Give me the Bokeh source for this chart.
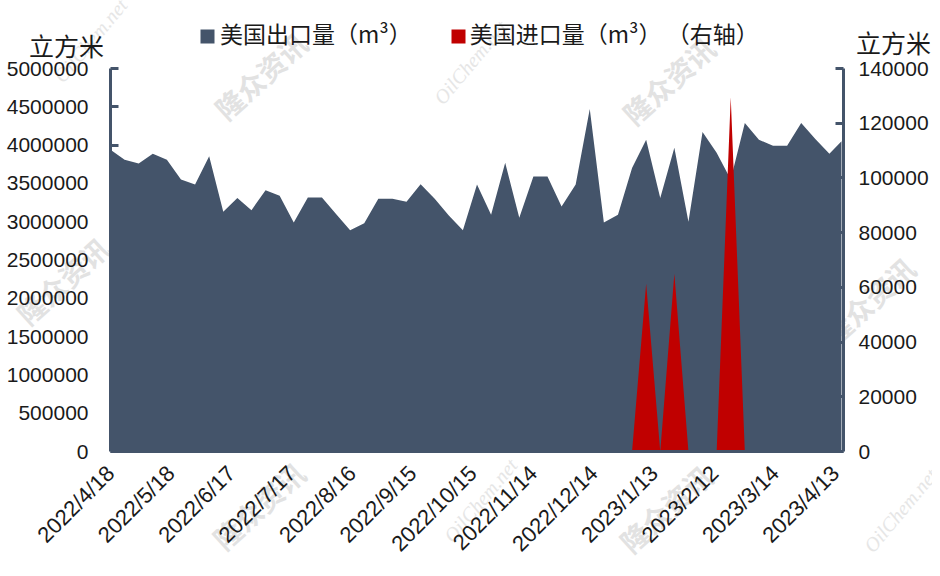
from datetime import date, timedelta
from bokeh.plotting import figure
from bokeh.layouts import column
from bokeh.models import Range1d, LinearAxis, FixedTicker, Legend, LegendItem, BasicTickFormatter
from bokeh.core.properties import value
from bokeh.embed import file_html
from bokeh.resources import INLINE
import math

start = date(2022, 4, 18)
export_m3 = [3940000, 3810000, 3760000, 3886000, 3810000, 3550000, 3486000, 3855000, 3130000,
             3310000, 3150000, 3410000, 3340000, 2990000, 3315000, 3315000, 3100000, 2890000,
             2980000, 3300000, 3300000, 3260000, 3490000, 3300000, 3080000, 2890000, 3486000,
             3090000, 3770000, 3050000, 3590000, 3590000, 3200000, 3486000, 4470000, 2990000,
             3090000, 3700000, 4070000, 3310000, 3965000, 3000000, 4170000, 3900000, 3550000,
             4290000, 4070000, 3990000, 3990000, 4290000, 4080000, 3886000, 4050000]
week_days = [7 * i for i in range(52)] + [363]
import_m3 = [0] * 37 + [0, 61300, 0, 65000, 0, 0, 0, 129500, 0] + [0] * 7
tick_labels = ["2022/4/18", "2022/5/18", "2022/6/17", "2022/7/17", "2022/8/16", "2022/9/15", "2022/10/15",
               "2022/11/14", "2022/12/14", "2023/1/13", "2023/2/12", "2023/3/14", "2023/4/13"]
left_ticks = [0, 500000, 1000000, 1500000, 2000000, 2500000, 3000000, 3500000, 4000000, 4500000, 5000000]
right_ticks = [0, 20000, 40000, 60000, 80000, 100000, 120000, 140000]

NAVY = "#44546A"
RED = "#C00000"
TXT = "#1a1a1a"
FONT = "Liberation Sans"
CJK = "Noto Sans CJK SC"
W, H = 932, 568

dates = [start + timedelta(days=d) for d in week_days]
def ms(d):
    return (d - date(1970, 1, 1)).days * 86400000.0
xs = [ms(d) for d in dates]
tick_ms = [ms(start + timedelta(days=30 * i)) for i in range(13)]

# Backdrop: page-wide layer in pixel coordinates for legend, unit captions and watermarks
bg = figure(width=W, height=H, output_backend="svg", toolbar_location=None,
            x_range=Range1d(0, W), y_range=Range1d(H, 0), min_border=0, frame_align=False,
            x_axis_location=None, y_axis_location=None, outline_line_color=None,
            background_fill_color="white", border_fill_color="white")
bg.xgrid.visible = False
bg.ygrid.visible = False

wm_cn_x = [260, 668, 62, 868, 258, 665]
wm_cn_y = [75, 80, 280, 300, 505, 508]
wm_en_x = [90, 470, 480, 900]
wm_en_y = [40, 62, 500, 510]
bg.text(wm_cn_x, wm_cn_y, text=["隆众资讯"] * len(wm_cn_x), angle=42, angle_units="deg",
        text_font=value(CJK), text_font_style="bold", text_font_size="28px", text_color="#e2e2e2",
        text_align="center", text_baseline="middle")
bg.text(wm_en_x, wm_en_y, text=["OilChem.net"] * len(wm_en_x), angle=50, angle_units="deg",
        text_font=value("Liberation Serif"), text_font_style="italic", text_font_size="20px", text_color="#e6e6e6",
        text_align="center", text_baseline="middle")

unit_x = [66, 893]
unit_y = [44, 41]
bg.text(unit_x, unit_y, text=["立方米"] * 2, text_font=value(CJK), text_font_size="25px", text_color=TXT,
        text_align="center", text_baseline="middle")

key_x = [207, 458]
key_y = [36, 36]
bg.scatter(key_x, key_y, marker="square", size=14, fill_color=[NAVY, RED], line_color=None)

k1 = bg.quad(left=[], right=[], top=[], bottom=[], fill_color=NAVY, line_color=None)
k2 = bg.quad(left=[], right=[], top=[], bottom=[], fill_color=RED, line_color=None)
legend = Legend(items=[LegendItem(label="美国出口量（m³）", renderers=[k1]),
                       LegendItem(label="美国进口量（m³） （右轴）", renderers=[k2])],
                orientation="horizontal", location=(200, H - 50), spacing=38,
                glyph_width=14, glyph_height=14, label_standoff=6, padding=0, margin=0,
                border_line_color=None, background_fill_alpha=0,
                label_text_font=CJK, label_text_font_size="23px", label_text_color=TXT)
bg.add_layout(legend, "center")

p = figure(width=W, height=H, output_backend="svg", toolbar_location=None,
           x_range=Range1d(ms(start), ms(start + timedelta(days=364))),
           y_range=Range1d(0, 5000000), frame_align=False,
           min_border_left=110, min_border_right=W - 843, min_border_top=68, min_border_bottom=H - 451,
           background_fill_alpha=0, border_fill_alpha=0, outline_line_color=None,
           margin=(-H, 0, 0, 0))
p.extra_y_ranges = {"right": Range1d(0, 140000)}
p.xgrid.visible = False
p.ygrid.visible = False

a1 = p.varea(xs, y1=[0] * len(xs), y2=export_m3, fill_color=NAVY)
a2 = p.varea(xs, y1=[0] * len(xs), y2=import_m3, fill_color=RED, y_range_name="right")

def style(ax):
    ax.axis_line_color = NAVY
    ax.axis_line_width = 3
    ax.major_tick_line_color = NAVY
    ax.major_tick_line_width = 3
    ax.major_tick_in = 8
    ax.major_tick_out = 0
    ax.minor_tick_line_color = None
    ax.major_label_text_font = FONT
    ax.major_label_text_font_size = "21px"
    ax.major_label_text_color = TXT

ly = p.yaxis[0]
style(ly)
ly.major_label_standoff = 22
ly.ticker = FixedTicker(ticks=left_ticks)
ly.formatter = BasicTickFormatter(use_scientific=False)

ry = LinearAxis(y_range_name="right", ticker=FixedTicker(ticks=right_ticks),
                formatter=BasicTickFormatter(use_scientific=False))
style(ry)
ry.major_label_standoff = 15
p.add_layout(ry, "right")

bx = p.xaxis[0]
style(bx)
bx.ticker = FixedTicker(ticks=tick_ms)
bx.major_label_overrides = dict(zip(tick_ms, tick_labels))
bx.major_tick_line_color = None
bx.major_label_orientation = math.radians(45)
bx.major_label_text_font_size = "22px"
bx.major_label_standoff = 18

page = column(bg, p, spacing=0)
open("out.html", "w").write(file_html(page, INLINE))
